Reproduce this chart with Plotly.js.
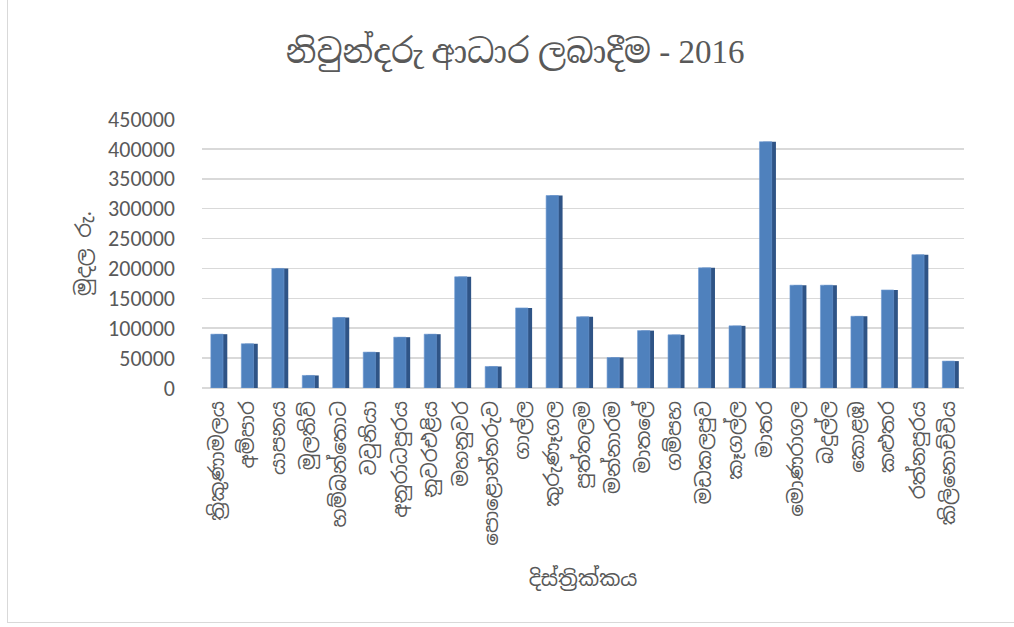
<!DOCTYPE html>
<html>
<head>
<meta charset="utf-8">
<script src="https://cdn.plot.ly/plotly-3.0.1.min.js"></script>
<style>
  html, body { margin: 0; padding: 0; background: #fff; }
  #frame { position: absolute; left: 0; top: 0; width: 1014px; height: 627px; }
  #border { position: absolute; left: 7px; top: 0; width: 1007px; height: 622px;
            border-left: 1px solid #d9d9d9; border-bottom: 1px solid #d9d9d9; pointer-events: none; }
  #chart { position: absolute; left: 0; top: 0; width: 1014px; height: 627px; }
</style>
</head>
<body>
<div id="frame">
  <div id="chart"></div>
  <div id="border"></div>
</div>
<script>
const districts = [
  "ත්‍රිකුණාමලය", "අම්පාර", "යාපනය", "මුලතිව්", "හම්බන්තොට",
  "වවුනියා", "අනුරාධපුරය", "නුවරඑළිය", "මහනුවර", "පොළොන්නරුව",
  "ගාල්ල", "කුරුණෑගල", "පුත්තලම", "මන්නාරම", "මාතලේ",
  "ගම්පහ", "මඩකලපුව", "කෑගල්ල", "මාතර", "මොණරාගල",
  "බදුල්ල", "කොළඹ", "කළුතර", "රත්නපුරය", "කිලිනොච්චිය"
];
const amounts = [
  90000, 74000, 200000, 21000, 118000,
  60000, 85000, 90000, 186000, 36000,
  134000, 322000, 119000, 51000, 96000,
  89000, 201000, 104000, 412000, 172000,
  172000, 120000, 164000, 223000, 45000
];
const yTicks = [0, 50000, 100000, 150000, 200000, 250000, 300000, 350000, 400000, 450000];

const titleText = "නිවුන්දරු ආධාර ලබාදීම - 2016";
const xTitle = "දිස්ත්‍රික්කය";
const yTitle = "මුදල රු.";

const grey = "#595959";
const sinFont = "'Noto Sans Sinhala', 'Iskoola Pota', 'Noto Sans', sans-serif";

// side face (darker) drawn behind the front face to suggest 3D columns
const side = {
  type: "bar", x: districts, y: amounts,
  width: 0.42, offset: -0.09,
  marker: { color: "#2f5486", line: { width: 0 } },
  hoverinfo: "skip", showlegend: false
};
const front = {
  type: "bar", x: districts, y: amounts,
  width: 0.4, offset: -0.21,
  marker: { color: "#4f81bd", line: { width: 0.6, color: "#6f9bd4" } },
  showlegend: false
};

const layout = {
  width: 1014, height: 627,
  margin: { l: 202, r: 50, t: 119, b: 239 },
  paper_bgcolor: "#ffffff", plot_bgcolor: "#ffffff",
  barmode: "overlay",
  title: {
    text: titleText,
    x: 0.508, xanchor: "center", y: 0.918, yanchor: "middle",
    font: { family: "'Liberation Serif', 'Noto Serif Sinhala', " + sinFont, size: 33, color: grey }
  },
  xaxis: {
    type: "category",
    tickangle: -90,
    tickfont: { family: sinFont, size: 20, color: grey },
    showgrid: false, zeroline: false, showline: false,
    ticks: "", ticklabelstandoff: 8,
    title: { text: xTitle, font: { family: sinFont, size: 21, color: grey }, standoff: 26 },
    automargin: false
  },
  yaxis: {
    range: [0, 450000],
    tickvals: yTicks,
    ticktext: yTicks.map(String),
    tickfont: { family: "Carlito, 'Liberation Sans', sans-serif", size: 22, color: grey },
    showgrid: true, gridcolor: "#d9d9d9", gridwidth: 1.5,
    zeroline: true, zerolinecolor: "#d9d9d9", zerolinewidth: 1.5,
    showline: false, ticks: "", ticklabelstandoff: 26,
    title: { text: yTitle, font: { family: sinFont, size: 21, color: grey }, standoff: 10 },
    automargin: false
  },
  bargap: 0.5
};

Plotly.newPlot("chart", [side, front], layout, { displayModeBar: false, staticPlot: true });
</script>
</body>
</html>
